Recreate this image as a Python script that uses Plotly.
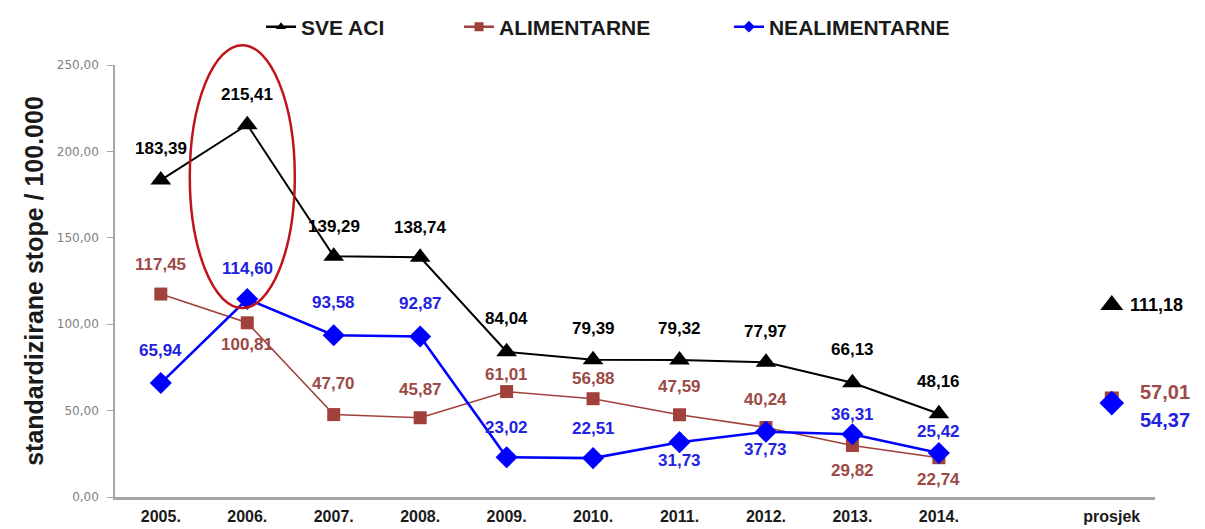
import plotly.graph_objects as go

YEARS = ["2005.", "2006.", "2007.", "2008.", "2009.", "2010.", "2011.", "2012.", "2013.", "2014."]
AVG_LABEL = "prosjek"

SVE_ACI = [183.39, 215.41, 139.29, 138.74, 84.04, 79.39, 79.32, 77.97, 66.13, 48.16]
ALIMENTARNE = [117.45, 100.81, 47.70, 45.87, 61.01, 56.88, 47.59, 40.24, 29.82, 22.74]
NEALIMENTARNE = [65.94, 114.60, 93.58, 92.87, 23.02, 22.51, 31.73, 37.73, 36.31, 25.42]

AVG_SVE_ACI = 111.18
AVG_ALIMENTARNE = 57.01
AVG_NEALIMENTARNE = 54.37

Y_TICKS = [0, 50, 100, 150, 200, 250]


def fmt(v):
    return f"{v:.2f}".replace(".", ",")


BLACK = "#000000"
RED = "#A0413C"
RED_TEXT = "#9C4A46"
BLUE = "#0000FF"
BLUE_TEXT = "#2222E0"
GRAY = "#A6A6A6"
FONT = "Liberation Sans, Arial, sans-serif"

# label offsets in px (positive = above the marker)
label_shift = {
    "SVE ACI": [32, 30, 30, 30, 33, 31, 31, 31, 33, 32],
    "ALIMENTARNE": [30, -22, 31, 28, 17, 20, 28, 28, -25, -22],
    "NEALIMENTARNE": [33, 30, 33, 33, 30, 30, -18, -18, 20, 22],
}

series = [
    ("SVE ACI", SVE_ACI, BLACK, BLACK, "triangle-up", 18, 2.0, "legend", 0.2114),
    ("ALIMENTARNE", ALIMENTARNE, RED, RED_TEXT, "square", 13, 1.6, "legend2", 0.3768),
    ("NEALIMENTARNE", NEALIMENTARNE, BLUE, BLUE_TEXT, "diamond", 17, 2.6, "legend3", 0.6023),
]

x_years = list(range(len(YEARS)))
x_avg = 11

fig = go.Figure()
annotations = []
legends = {}
for name, values, color, text_color, symbol, size, width, legend_id, legend_x in series:
    fig.add_trace(
        go.Scatter(
            x=x_years,
            y=values,
            mode="lines+markers",
            name=name,
            showlegend=False,
            line=dict(color=color, width=width),
            marker=dict(symbol=symbol, size=size, color=color),
        )
    )
    # legend-only entry with a small marker, like the original
    fig.add_trace(
        go.Scatter(
            x=[None], y=[None], mode="lines+markers", name=name, legend=legend_id,
            line=dict(color=color, width=2.5),
            marker=dict(symbol=symbol, size=9, color=color),
        )
    )
    legends[legend_id] = dict(
        orientation="h",
        xref="container", x=legend_x, xanchor="left",
        yref="container", y=0.9635, yanchor="middle",
        font=dict(family=FONT, size=21, color="#1a1a1a", weight="bold"),
        itemwidth=30,
        bgcolor="rgba(0,0,0,0)",
    )
    for x, v, dy in zip(x_years, values, label_shift[name]):
        annotations.append(
            dict(
                x=x, y=v, text=fmt(v), showarrow=False, yshift=dy,
                font=dict(family=FONT, size=17, color=text_color, weight="bold"),
            )
        )

# averages ("prosjek")
for v, color, symbol, size in [
    (AVG_SVE_ACI, BLACK, "triangle-up", 20),
    (AVG_ALIMENTARNE, RED, "square", 14),
    (AVG_NEALIMENTARNE, BLUE, "diamond", 19),
]:
    fig.add_trace(
        go.Scatter(
            x=[x_avg], y=[v], mode="markers", showlegend=False,
            marker=dict(symbol=symbol, size=size, color=color),
        )
    )

annotations.append(dict(x=x_avg, y=AVG_SVE_ACI, text=fmt(AVG_SVE_ACI), showarrow=False,
                        xanchor="left", xshift=16,
                        font=dict(family=FONT, size=18, color=BLACK, weight="bold")))
annotations.append(dict(x=x_avg, y=AVG_ALIMENTARNE, text=fmt(AVG_ALIMENTARNE), showarrow=False,
                        xanchor="left", xshift=26, yshift=6,
                        font=dict(family=FONT, size=20, color=RED_TEXT, weight="bold")))
annotations.append(dict(x=x_avg, y=AVG_NEALIMENTARNE, text=fmt(AVG_NEALIMENTARNE), showarrow=False,
                        xanchor="left", xshift=26, yshift=-17,
                        font=dict(family=FONT, size=20, color=BLUE_TEXT, weight="bold")))

# red ellipse highlighting 2006
fig.add_shape(
    type="circle", xref="x", yref="paper",
    x0=0.335, x1=1.55, y0=0.4375, y1=1.046,
    line=dict(color="#C0141C", width=2.5),
)

# page body has an 8px margin, so the figure is 8px smaller than the window
fig.update_layout(
    width=1197,
    height=521,
    margin=dict(l=107, r=50, t=57, b=32, autoexpand=False),
    paper_bgcolor="white",
    plot_bgcolor="white",
    font=dict(family=FONT, color="#000000"),
    annotations=annotations,
    **legends,
)
fig.update_xaxes(
    range=[-0.53, 11.5],
    tickvals=x_years + [x_avg],
    ticktext=YEARS + [AVG_LABEL],
    showgrid=False,
    zeroline=False,
    showline=True,
    linecolor=GRAY,
    linewidth=2.5,
    ticks="",
    automargin=False,
    ticklabelstandoff=3,
    tickfont=dict(family=FONT, size=16, color="#1a1a1a", weight="bold"),
)
fig.update_yaxes(
    range=[0, 250],
    tickvals=Y_TICKS,
    ticktext=[fmt(t) for t in Y_TICKS],
    showgrid=False,
    zeroline=False,
    showline=True,
    linecolor=GRAY,
    linewidth=1.5,
    ticks="outside",
    ticklen=6,
    tickcolor=GRAY,
    automargin=False,
    ticklabelstandoff=6,
    tickfont=dict(family="DejaVu Sans, Verdana, sans-serif", size=12, color="#808080"),
    title=dict(
        text="standardizirane stope / 100.000",
        font=dict(family=FONT, size=25, color="#1a1a1a", weight="bold"),
        standoff=6,
    ),
)

fig.write_html("out.html")
